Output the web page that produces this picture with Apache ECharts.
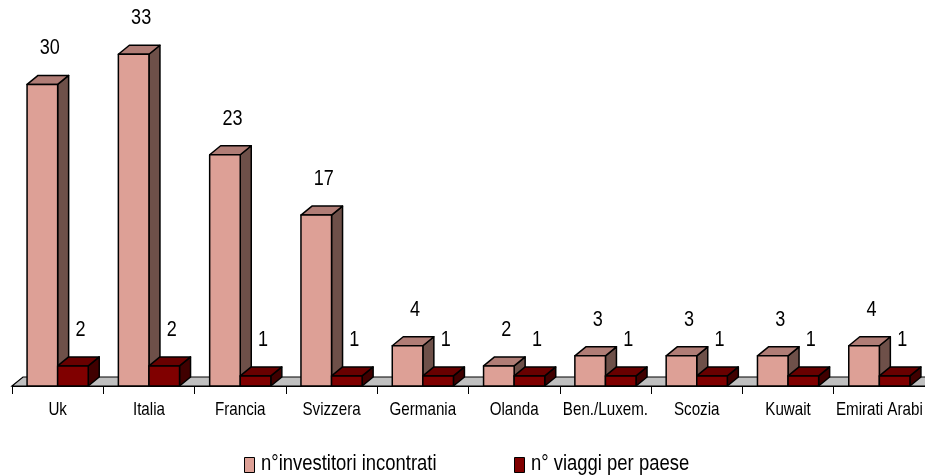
<!DOCTYPE html>
<html>
<head>
<meta charset="utf-8">
<script src="https://cdn.jsdelivr.net/npm/echarts@6/dist/echarts.min.js"></script>
<style>
  html, body { margin:0; padding:0; background:#fff; }
  #chart { width:925px; height:476px; }
</style>
</head>
<body>
<div id="chart"></div>
<script>
var categories = ['Uk', 'Italia', 'Francia', 'Svizzera', 'Germania', 'Olanda', 'Ben./Luxem.', 'Scozia', 'Kuwait', 'Emirati Arabi'];
var investitori = [30, 33, 23, 17, 4, 2, 3, 3, 3, 4];
var viaggi = [2, 2, 1, 1, 1, 1, 1, 1, 1, 1];
var seriesNames = ['n°investitori incontrati', 'n° viaggi per paese'];

var FONT = "'Liberation Sans', Arial, sans-serif";
var NARROW = 0.82; // the original text is a condensed Arial
var dx = 11, dy = 9;
// front, top, side
var colors = [['#DDA096', '#B07D76', '#6E5049'], ['#800000', '#680000', '#400000']];

var myChart = echarts.init(document.getElementById('chart'));

function toData(arr) {
    var out = [];
    for (var i = 0; i < arr.length; i++) out.push([i, arr[i]]);
    return out;
}

function boxRenderer(idx) {
    return function (params, api) {
        var base = api.coord([api.value(0), 0]);
        var top = api.coord([api.value(0), api.value(1)]);
        var bw = api.size([1, 0])[0] * 0.335;
        var x0 = base[0] - bw + idx * bw, x1 = x0 + bw;
        var yb = base[1], yt = top[1];
        var c = colors[idx];
        var line = { stroke: '#000', lineWidth: 1.5, lineJoin: 'round' };
        return {
            type: 'group',
            children: [
                { type: 'polygon', shape: { points: [[x1, yt], [x1 + dx, yt - dy], [x1 + dx, yb - dy], [x1, yb]] },
                  style: Object.assign({ fill: c[2] }, line) },
                { type: 'polygon', shape: { points: [[x0, yt], [x0 + dx, yt - dy], [x1 + dx, yt - dy], [x1, yt]] },
                  style: Object.assign({ fill: c[1] }, line) },
                { type: 'rect', shape: { x: x0, y: yt, width: bw, height: yb - yt },
                  style: Object.assign({ fill: c[0] }, line) },
                { type: 'text', x: (x0 + x1) / 2 + dx / 2 + 2, y: yt - dy - 27, scaleX: NARROW,
                  style: { text: String(api.value(1)), fill: '#000', font: '22px ' + FONT, align: 'center', verticalAlign: 'middle' } }
            ]
        };
    };
}

function floorRenderer(params, api) {
    var cw = api.size([1, 0])[0];
    var p = api.coord([0, 0]);
    var left = p[0] - cw / 2, right = left + cw * categories.length;
    var y = p[1];
    return {
        type: 'polygon',
        shape: { points: [[left, y], [left + dx, y - dy], [right + dx, y - dy], [right, y]] },
        style: { fill: '#C0C0C0', stroke: '#000', lineWidth: 1.2 }
    };
}

// category names, drawn here so they can be condensed like the original
function labelRenderer(params, api) {
    var p = api.coord([api.value(0), 0]);
    return {
        type: 'text', x: p[0], y: p[1] + 24, scaleX: NARROW,
        style: { text: categories[api.value(0)], fill: '#000', font: '18.5px ' + FONT, align: 'center', verticalAlign: 'middle' }
    };
}

var option = {
    animation: false,
    grid: { left: 12, right: -2, top: 4, bottom: 90 },
    xAxis: {
        type: 'category',
        data: categories,
        axisLine: { lineStyle: { color: '#000', width: 1 } },
        axisTick: { show: true, length: 8, lineStyle: { color: '#000' } },
        axisLabel: { show: false },
        splitLine: { show: false }
    },
    yAxis: {
        type: 'value',
        min: 0,
        max: 38,
        show: false
    },
    graphic: [
        { type: 'rect', left: 244, top: 457, shape: { width: 10, height: 15 },
          style: { fill: colors[0][0], stroke: '#000', lineWidth: 1 } },
        { type: 'text', x: 261, y: 464, scaleX: NARROW,
          style: { text: seriesNames[0], fill: '#000', font: '22.5px ' + FONT, verticalAlign: 'middle' } },
        { type: 'rect', left: 514, top: 457, shape: { width: 10, height: 15 },
          style: { fill: colors[1][0], stroke: '#000', lineWidth: 1 } },
        { type: 'text', x: 531, y: 464, scaleX: NARROW,
          style: { text: seriesNames[1], fill: '#000', font: '22.5px ' + FONT, verticalAlign: 'middle' } }
    ],
    series: [
        { name: 'floor', type: 'custom', renderItem: floorRenderer, data: [[0, 0]], z: 1, silent: true },
        { name: seriesNames[0], type: 'custom', renderItem: boxRenderer(0), data: toData(investitori), z: 2 },
        { name: seriesNames[1], type: 'custom', renderItem: boxRenderer(1), data: toData(viaggi), z: 3 },
        { name: 'labels', type: 'custom', renderItem: labelRenderer, data: toData(categories.map(function () { return 0; })), z: 4, silent: true }
    ]
};

myChart.setOption(option);
</script>
</body>
</html>
